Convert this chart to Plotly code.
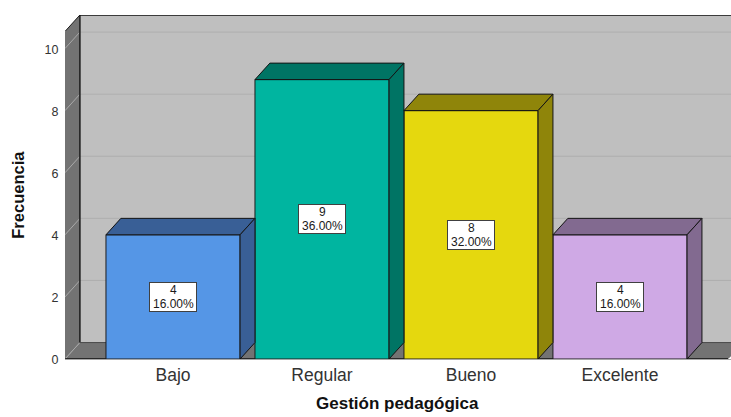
import plotly.graph_objects as go

# Frequency table for "Gestión pedagógica"
categories = ["Bajo", "Regular", "Bueno", "Excelente"]
counts = [4, 9, 8, 4]
percents = ["16.00%", "36.00%", "32.00%", "16.00%"]
y_ticks = [0, 2, 4, 6, 8, 10]

front_colors = ["#5596E6", "#00B5A0", "#E5D80E", "#CFA9E5"]
shade_colors = ["#395F96", "#007464", "#8F850A", "#826A90"]

FONT = "Liberation Sans"
WIDTH, HEIGHT = 731, 417
BAR_W = 0.9
# Oblique offset of the pseudo-3D depth, in axis units
DX, DY = 0.1, 0.53
X_MIN, X_MAX = -0.725, 3.745
Y_MAX = 11.08

positions = list(range(len(categories)))
fig = go.Figure()


def polygon(pts):
    return "M" + " L".join(f"{x},{y}" for x, y in pts) + " Z"


def segment(x0, y0, x1, y1, color, width=1):
    return dict(type="line", xref="x", yref="y", x0=x0, y0=y0, x1=x1, y1=y1,
                line=dict(color=color, width=width), layer="below")


def face(pts, fill):
    return dict(type="path", xref="x", yref="y", path=polygon(pts), fillcolor=fill,
                line=dict(width=0), layer="below")


WALL, SIDE = "#BFBFBF", "#737373"
back_x = X_MIN + DX
shapes = [
    face([(back_x, DY), (X_MAX + 0.1, DY), (X_MAX + 0.1, Y_MAX), (back_x, Y_MAX)], WALL),
    face([(X_MIN, 0), (back_x, DY), (back_x, Y_MAX), (X_MIN, Y_MAX - DY)], SIDE),
    face([(X_MIN, 0), (X_MAX - 0.02, 0), (X_MAX + 0.1, DY), (back_x, DY)], SIDE),
]
for t in y_ticks:
    if t > 0:
        shapes.append(segment(back_x, t + DY, X_MAX + 0.1, t + DY, "#AFAFAF"))
    shapes.append(segment(X_MIN, t, back_x, t + DY, "#A9A9A9"))
shapes += [
    segment(back_x, DY, back_x, Y_MAX, "#1A1A1A", 1.5),
    segment(back_x, DY, X_MAX + 0.1, DY, "#4A4A4A"),
    segment(X_MIN, Y_MAX - DY, back_x, Y_MAX, "#1A1A1A"),
    segment(back_x, Y_MAX, X_MAX + 0.1, Y_MAX, "#111111", 1.5),
    segment(X_MIN, 0, X_MAX - 0.02, 0, "#111111", 1.5),
]

# Front faces
fig.add_trace(go.Bar(
    x=positions, y=counts, width=BAR_W,
    marker=dict(color=front_colors, line=dict(color="#1C1C1C", width=1)),
    hoverinfo="skip", showlegend=False,
))

# Top and side faces built from the same counts
for pos, value, shade in zip(positions, counts, shade_colors):
    left, right = pos - BAR_W / 2, pos + BAR_W / 2
    top_x = [left, left + DX, right + DX, right, left]
    top_y = [value, value + DY, value + DY, value, value]
    side_x = [right, right + DX, right + DX, right, right]
    side_y = [0, DY, value + DY, value, 0]
    for xs, ys in ((top_x, top_y), (side_x, side_y)):
        fig.add_trace(go.Scatter(
            x=xs, y=ys, mode="lines", fill="toself", fillcolor=shade,
            line=dict(color="#141414", width=1), hoverinfo="skip", showlegend=False,
        ))

# Value boxes: a white frame with the count and the percentage stacked tightly
label_font = dict(family=FONT, size=12, color="#1A1A1A")
annotations = []
for pos, value, pct in zip(positions, counts, percents):
    annotations.append(dict(
        x=pos, y=value / 2, xref="x", yref="y", text=" ", showarrow=False,
        width=46, height=28, bgcolor="#FFFFFF", bordercolor="#404040", borderwidth=1,
        borderpad=0, font=label_font,
    ))
    annotations.append(dict(x=pos, y=value / 2, xref="x", yref="y", text=str(value),
                            yshift=7, showarrow=False, font=label_font))
    annotations.append(dict(x=pos, y=value / 2, xref="x", yref="y", text=pct,
                            yshift=-7, showarrow=False, font=label_font))

# Axis titles placed directly
annotations.append(dict(
    xref="paper", yref="paper", x=0.4985, y=-0.164, text="<b>Gestión pedagógica</b>",
    showarrow=False, xanchor="center", yanchor="bottom",
    font=dict(family=FONT, size=17, color="#111111"),
))
annotations.append(dict(
    xref="paper", yref="paper", x=-0.0706, y=0.4775, text="<b>Frecuencia</b>",
    showarrow=False, textangle=-90, xanchor="center", yanchor="middle",
    font=dict(family=FONT, size=16.5, color="#111111"),
))

fig.update_layout(
    width=WIDTH, height=HEIGHT, autosize=False,
    margin=dict(l=65, r=0, t=15, b=57.5),
    paper_bgcolor="#FFFFFF", plot_bgcolor="#FFFFFF",
    bargap=0.1, shapes=shapes, annotations=annotations,
    font=dict(family=FONT, color="#222222"),
    xaxis=dict(
        range=[X_MIN, X_MAX], tickmode="array", tickvals=positions, ticktext=categories,
        tickfont=dict(family=FONT, size=17.5, color="#333333"),
        showgrid=False, zeroline=False, showline=True, linecolor="#A6A6A6", linewidth=1,
        ticks="",
    ),
    yaxis=dict(
        range=[0, Y_MAX], tickmode="array", tickvals=y_ticks,
        tickfont=dict(family=FONT, size=12.5, color="#333333"),
        showgrid=False, zeroline=False, showline=False,
        ticks="outside", ticklen=3, tickcolor="rgba(0,0,0,0)", ticklabelshift=1,
    ),
)

fig.write_html("out.html", config=dict(displayModeBar=False))
